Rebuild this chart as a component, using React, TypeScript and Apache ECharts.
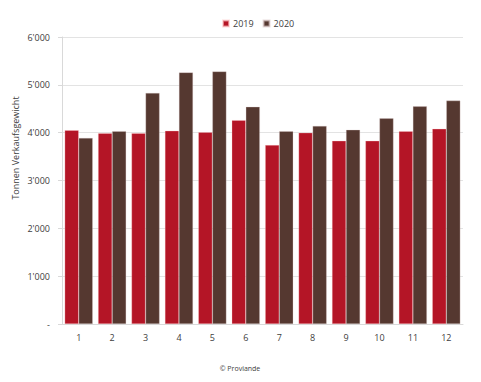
import React, { useEffect, useRef } from "react";
import * as echarts from "echarts";

const months = ["1", "2", "3", "4", "5", "6", "7", "8", "9", "10", "11", "12"];
const values2019 = [4050, 3990, 3990, 4040, 4010, 4260, 3740, 4000, 3830, 3830, 4030, 4080];
const values2020 = [3890, 4030, 4830, 5260, 5280, 4540, 4030, 4140, 4060, 4300, 4550, 4670];
const seriesNames = ["2019", "2020"];
const yAxisTitle = "Tonnen Verkaufsgewicht";
const footerText = "© Proviande";

const FONT = "'Open Sans', sans-serif";

function fmt(v: number): string {
  if (v === 0) return "-";
  const s = String(Math.round(v));
  return s.replace(/\B(?=(\d{3})+(?!\d))/g, "'");
}

export default function App() {
  const ref = useRef<HTMLDivElement>(null);
  useEffect(() => {
    if (!ref.current) return;
    const chart = echarts.init(ref.current, null, { renderer: "svg" });
    chart.setOption({
      animation: false,
      backgroundColor: "#ffffff",
      textStyle: { fontFamily: FONT },
      legend: {
        data: seriesNames,
        top: 14,
        left: 217,
        itemWidth: 6,
        itemHeight: 6,
        itemGap: 9,
        icon: "rect",
        textStyle: { fontSize: 9, color: "#404040", fontFamily: FONT, padding: [0, 0, 0, -1] },
      },
      grid: { left: 62, right: 18, top: 37, bottom: 58, containLabel: false },
      xAxis: {
        type: "category",
        data: months,
        axisLine: { show: true, lineStyle: { color: "#d9d9d9" } },
        axisTick: { show: false },
        axisLabel: { color: "#404040", fontSize: 9, margin: 9, fontFamily: FONT },
      },
      yAxis: {
        type: "value",
        min: 0,
        max: 6000,
        interval: 1000,
        axisLine: { show: true, lineStyle: { color: "#d9d9d9" } },
        axisTick: { show: true, length: 4, lineStyle: { color: "#d9d9d9" } },
        axisLabel: {
          color: "#404040",
          fontSize: 9,
          margin: 12,
          fontFamily: FONT,
          formatter: (v: number) => fmt(v),
        },
        splitLine: { show: true, lineStyle: { color: "#e3e3e3" } },
      },
      graphic: [
        {
          type: "text",
          x: 15,
          y: 148,
          rotation: Math.PI / 2,
          style: {
            text: yAxisTitle,
            fontSize: 9,
            fill: "#404040",
            fontFamily: FONT,
            align: "center",
            verticalAlign: "middle",
          },
        },
        {
          type: "text",
          x: 240,
          y: 368,
          style: {
            text: footerText,
            fontSize: 7,
            fill: "#404040",
            fontFamily: FONT,
            align: "center",
            verticalAlign: "middle",
          },
        },
      ],
      series: [
        {
          name: seriesNames[0],
          type: "bar",
          data: values2019,
          barGap: "0%",
          barCategoryGap: "16%",
          itemStyle: { color: "#B41526", borderColor: "rgba(255,200,200,0.6)", borderWidth: 0.5 },
        },
        {
          name: seriesNames[1],
          type: "bar",
          data: values2020,
          barGap: "0%",
          barCategoryGap: "16%",
          itemStyle: { color: "#553830", borderColor: "rgba(220,200,200,0.6)", borderWidth: 0.5 },
        },
      ],
    });
    return () => chart.dispose();
  }, []);
  return (
    <div
      ref={ref}
      style={{ position: "fixed", left: 0, top: 0, width: 481, height: 382 }}
    />
  );
}
